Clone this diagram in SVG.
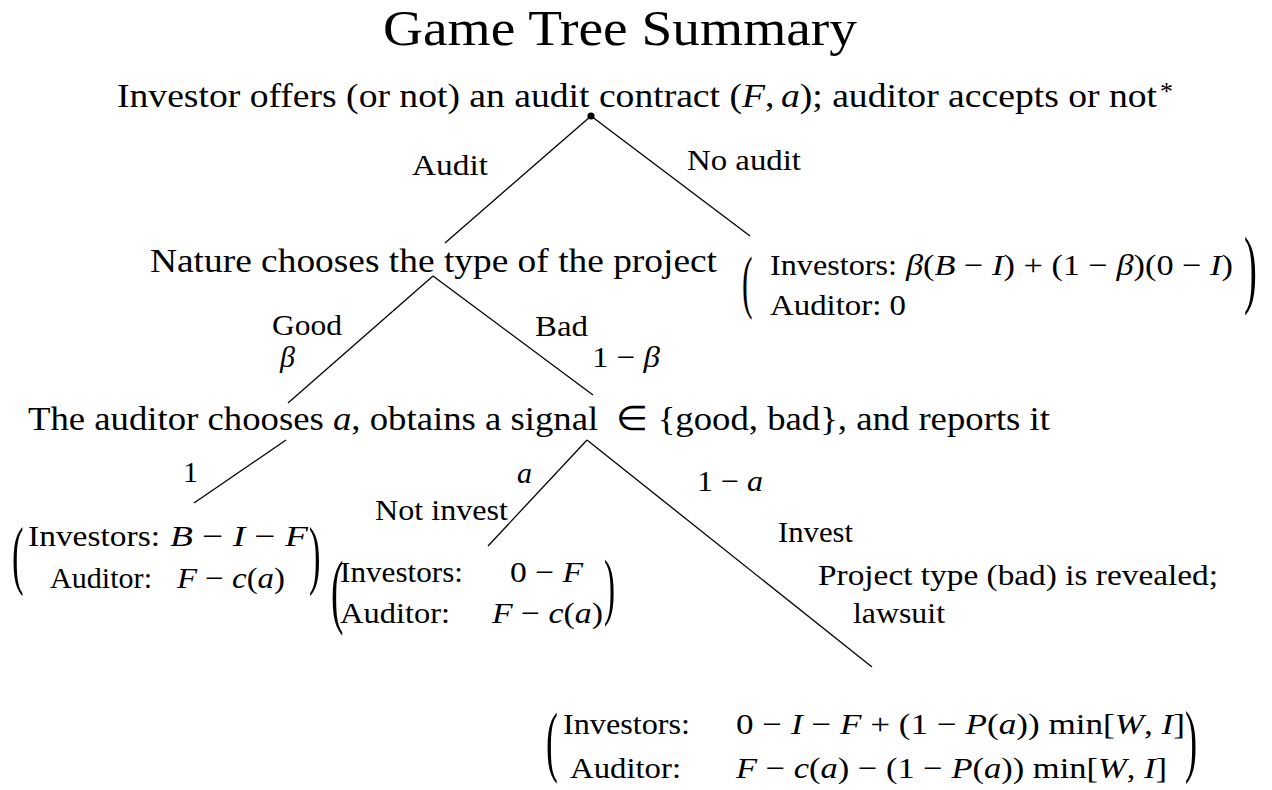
<svg xmlns="http://www.w3.org/2000/svg" width="1272" height="790" viewBox="0 0 1272 790">
<style>
text{font-family:"Liberation Serif","Times New Roman",serif;fill:#000}
.title{font-size:50px}
.main{font-size:34px}
.lbl{font-size:30px}
.m{font-style:italic}
.edge{stroke:#000;stroke-width:1.3;fill:none}
</style>
<rect width="1272" height="790" fill="#fff"/>
<g id="title"><text class="title" x="383" y="45" textLength="474" lengthAdjust="spacingAndGlyphs">Game Tree Summary</text></g>
<g id="connectors">
<line class="edge" x1="591" y1="116" x2="445" y2="243"/>
<line class="edge" x1="591" y1="116" x2="750" y2="236"/>
<line class="edge" x1="433" y1="276" x2="288" y2="403"/>
<line class="edge" x1="433" y1="276" x2="593" y2="395"/>
<line class="edge" x1="286" y1="440" x2="194" y2="503"/>
<line class="edge" x1="587" y1="440" x2="488" y2="546"/>
<line class="edge" x1="587" y1="440" x2="872" y2="667"/>
</g>
<g id="edge-labels">
<text class="lbl" x="412" y="175" textLength="76" lengthAdjust="spacingAndGlyphs">Audit</text>
<text class="lbl" x="687" y="170" textLength="114" lengthAdjust="spacingAndGlyphs">No audit</text>
<text class="lbl" x="272" y="335" textLength="70" lengthAdjust="spacingAndGlyphs">Good</text>
<text class="lbl m" x="280" y="367">β</text>
<text class="lbl" x="535" y="336" textLength="53" lengthAdjust="spacingAndGlyphs">Bad</text>
<text class="lbl" x="592" y="367" textLength="68" lengthAdjust="spacingAndGlyphs">1 − <tspan class="m">β</tspan></text>
<text class="lbl" x="183" y="482">1</text>
<text class="lbl m" x="517" y="483">a</text>
<text class="lbl" x="697" y="491" textLength="66" lengthAdjust="spacingAndGlyphs">1 − <tspan class="m">a</tspan></text>
<text class="lbl" x="375" y="520" textLength="133" lengthAdjust="spacingAndGlyphs">Not invest</text>
<text class="lbl" x="778" y="542" textLength="75" lengthAdjust="spacingAndGlyphs">Invest</text>
<text class="lbl" x="818" y="585" textLength="400" lengthAdjust="spacingAndGlyphs">Project type (bad) is revealed;</text>
<text class="lbl" x="853" y="623" textLength="92" lengthAdjust="spacingAndGlyphs">lawsuit</text>
</g>
<g id="root">
<circle cx="591" cy="116" r="3.6" fill="#000"/>
<text class="main" x="117" y="107" textLength="1040" lengthAdjust="spacingAndGlyphs">Investor offers (or not) an audit contract (<tspan class="m">F</tspan>,<tspan dx="6" class="m">a</tspan>); auditor accepts or not</text>
<text x="1160" y="100" style="font-size:26px">*</text>
</g>
<g id="nature">
<text class="main" x="150" y="272" textLength="567" lengthAdjust="spacingAndGlyphs">Nature chooses the type of the project</text>
</g>
<g id="payoff-no-audit">
<text style="font-size:70px" transform="translate(742,305) scale(0.45,1)">(</text>
<text class="lbl" x="770" y="275" textLength="127" lengthAdjust="spacingAndGlyphs">Investors:</text>
<text class="lbl" x="906" y="275" textLength="327" lengthAdjust="spacingAndGlyphs"><tspan class="m">β</tspan>(<tspan class="m">B</tspan> − <tspan class="m">I</tspan>) + (1 − <tspan class="m">β</tspan>)(0 − <tspan class="m">I</tspan>)</text>
<text class="lbl" x="770" y="315" textLength="136" lengthAdjust="spacingAndGlyphs">Auditor: 0</text>
<text style="font-size:86px" transform="translate(1244,297) scale(0.45,1)">)</text>
</g>
<g id="auditor-choice">
<text class="main" x="28" y="430" textLength="1022" lengthAdjust="spacingAndGlyphs">The auditor chooses <tspan class="m">a</tspan>, obtains a signal <tspan dx="8">∈ {good, bad}, and reports it</tspan></text>
</g>
<g id="payoff-good">
<text style="font-size:77px" transform="translate(12,580) scale(0.45,1)">(</text>
<text class="lbl" x="28" y="546" textLength="132" lengthAdjust="spacingAndGlyphs">Investors:</text>
<text class="lbl" x="170" y="546" textLength="138" lengthAdjust="spacingAndGlyphs"><tspan class="m">B</tspan> − <tspan class="m">I</tspan> − <tspan class="m">F</tspan></text>
<text class="lbl" x="50" y="588" textLength="102" lengthAdjust="spacingAndGlyphs">Auditor:</text>
<text class="lbl" x="177" y="588" textLength="108" lengthAdjust="spacingAndGlyphs"><tspan class="m">F</tspan> − <tspan class="m">c</tspan>(<tspan class="m">a</tspan>)</text>
<text style="font-size:77px" transform="translate(309,580) scale(0.45,1)">)</text>
</g>
<g id="payoff-not-invest">
<text style="font-size:83px" transform="translate(331,618) scale(0.45,1)">(</text>
<text class="lbl" x="340" y="582" textLength="123" lengthAdjust="spacingAndGlyphs">Investors:</text>
<text class="lbl" x="510" y="582" textLength="73" lengthAdjust="spacingAndGlyphs">0 − <tspan class="m">F</tspan></text>
<text class="lbl" x="340" y="623" textLength="110" lengthAdjust="spacingAndGlyphs">Auditor:</text>
<text class="lbl" x="492" y="623" textLength="111" lengthAdjust="spacingAndGlyphs"><tspan class="m">F</tspan> − <tspan class="m">c</tspan>(<tspan class="m">a</tspan>)</text>
<text style="font-size:74px" transform="translate(604,611) scale(0.45,1)">)</text>
</g>
<g id="payoff-invest">
<text style="font-size:79px" transform="translate(546,767) scale(0.45,1)">(</text>
<text class="lbl" x="563" y="734" textLength="127" lengthAdjust="spacingAndGlyphs">Investors:</text>
<text class="lbl" x="736" y="734" textLength="449" lengthAdjust="spacingAndGlyphs">0 − <tspan class="m">I</tspan> − <tspan class="m">F</tspan> + (1 − <tspan class="m">P</tspan>(<tspan class="m">a</tspan>)) min[<tspan class="m">W</tspan>, <tspan class="m">I</tspan>]</text>
<text class="lbl" x="570" y="778" textLength="111" lengthAdjust="spacingAndGlyphs">Auditor:</text>
<text class="lbl" x="736" y="778" textLength="431" lengthAdjust="spacingAndGlyphs"><tspan class="m">F</tspan> − <tspan class="m">c</tspan>(<tspan class="m">a</tspan>) − (1 − <tspan class="m">P</tspan>(<tspan class="m">a</tspan>)) min[<tspan class="m">W</tspan>, <tspan class="m">I</tspan>]</text>
<text style="font-size:81px" transform="translate(1185,767) scale(0.45,1)">)</text>
</g>
</svg>
